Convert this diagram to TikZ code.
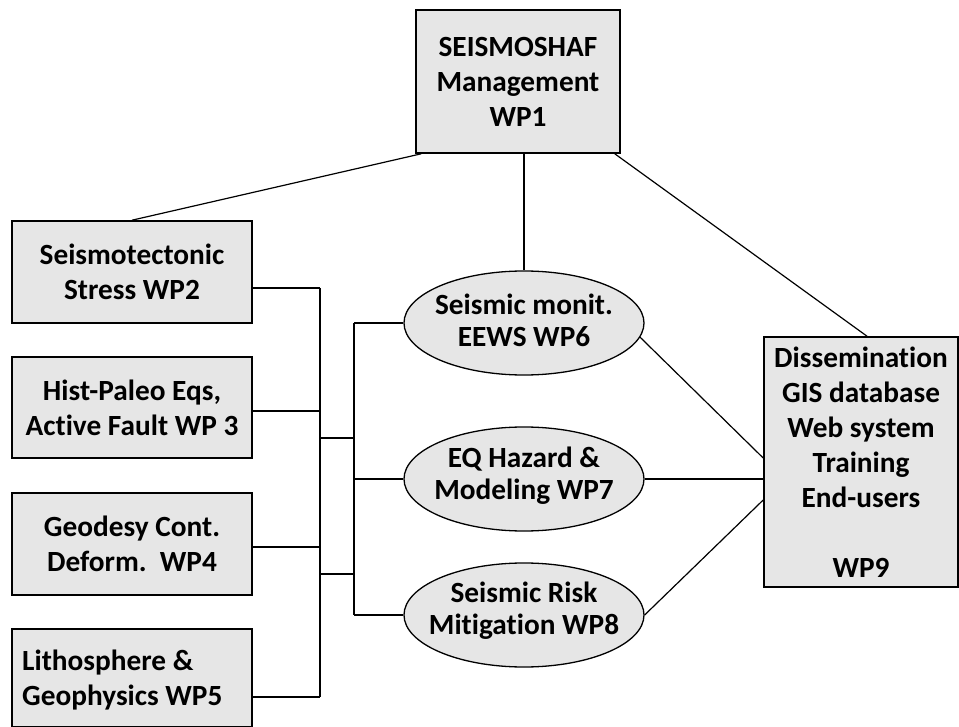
\documentclass[tikz,border=0pt]{standalone}
\usepackage{fontspec}
\setmainfont{Carlito}[Ligatures=NoCommon]
\usetikzlibrary{shapes.geometric}
\definecolor{boxfill}{HTML}{E6E6E6}
\tikzset{
  txt/.style={font=\fontsize{29.3}{35}\selectfont\bfseries, align=center, text=black},
  wpbox/.style={draw=black, line width=1.6pt, fill=boxfill, rectangle, inner sep=0pt, txt},
  wpell/.style={draw=black, line width=1.3pt, fill=boxfill, ellipse, inner sep=0pt,
    minimum width=240pt, minimum height=104pt},
  elltxt/.style={txt, font=\fontsize{29.3}{32}\selectfont\bfseries},
  conn/.style={draw=black, line width=1.2pt}
}
\begin{document}
\begin{tikzpicture}[x=1pt,y=-1pt]
\useasboundingbox (0,0) rectangle (959,727);
\fill[white] (0,0) rectangle (959,727);

% boxes
\node[wpbox, minimum width=204pt, minimum height=143pt] (wp1) at (518,81.5) {SEISMOSHAF\\Management\\WP1};
\node[wpbox, minimum width=240pt, minimum height=102pt] (wp2) at (132,272) {Seismotectonic\\Stress WP2};
\node[wpbox, minimum width=240pt, minimum height=101pt] (wp3) at (132,407.5) {Hist-Paleo Eqs,\\Active Fault WP 3};
\node[wpbox, minimum width=240pt, minimum height=102pt] (wp4) at (132,544) {Geodesy Cont.\\Deform.\ \ WP4};
\node[wpbox, minimum width=240pt, minimum height=98pt] (wp5) at (132,678) {};
\node[txt, align=left, anchor=west, inner sep=0pt] (wp5t) at (22,680) {Lithosphere \&\\Geophysics WP5};
\node[wpbox, minimum width=194pt, minimum height=250pt] (wp9) at (861,462) {Dissemination\\GIS database\\Web system\\Training\\End-users\\\mbox{}\\WP9};

% ellipses
\node[wpell] (wp6) at (524,323) {};
\node[elltxt] (wp6t) at (524,320) {Seismic monit.\\EEWS WP6};
\node[wpell] (wp7) at (524,479) {};
\node[elltxt] (wp7t) at (524,476) {EQ Hazard \&\\Modeling WP7};
\node[wpell] (wp8) at (524,615) {};
\node[elltxt] (wp8t) at (524,611) {Seismic Risk\\Mitigation WP8};

% bus coordinates
\coordinate (lbTop) at (320,288);
\coordinate (lbBot) at (320,697);
\coordinate (rbTop) at (354,323);
\coordinate (rbBot) at (354,615);
\coordinate (lk1l) at (320,438);
\coordinate (lk1r) at (354,438);
\coordinate (lk2l) at (320,574);
\coordinate (lk2r) at (354,574);

% WP1 links
\draw[conn] ([xshift=6pt]wp1.south west) -- (wp2.north);
\draw[conn] (wp6.north |- wp1.south) -- (wp6.north);
\draw[conn] ([xshift=-6pt]wp1.south east) -- ([xshift=6pt]wp9.north);

% left boxes to left bus
\draw[conn] ([yshift=-16pt]wp2.east) -- (lbTop);
\draw[conn] ([yshift=-3.5pt]wp3.east) -- ([yshift=-3.5pt]wp3.east -| lbTop);
\draw[conn] ([yshift=-3pt]wp4.east) -- ([yshift=-3pt]wp4.east -| lbTop);
\draw[conn] ([yshift=-19pt]wp5.east) -- (lbBot);
\draw[conn] (lbTop) -- (lbBot);

% links between buses
\draw[conn] (lk1l) -- (lk1r);
\draw[conn] (lk2l) -- (lk2r);

% right bus to ellipses
\draw[conn] (rbTop) -- (rbBot);
\draw[conn] (rbTop) -- (wp6.west);
\draw[conn] (wp7.west -| rbTop) -- (wp7.west);
\draw[conn] (rbBot) -- (wp8.west);

% ellipses to WP9
\draw[conn] (wp6.-7) -- ([yshift=4pt]wp9.west);
\draw[conn] (wp7.east) -- (wp7.east -| wp9.west);
\draw[conn] (wp8.east) -- ([yshift=-38pt]wp9.west);
\end{tikzpicture}
\end{document}
